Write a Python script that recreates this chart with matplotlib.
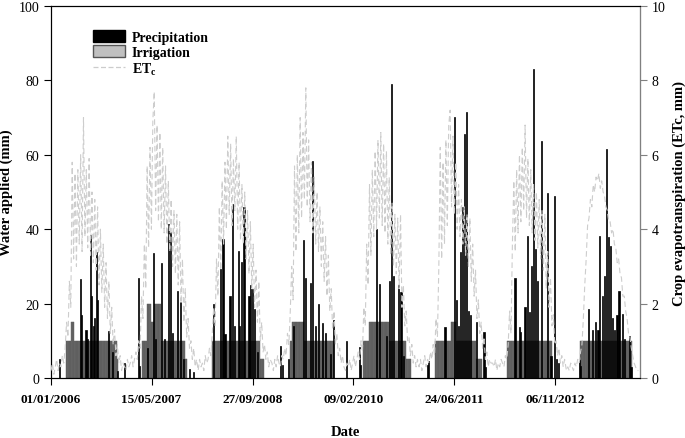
import matplotlib
matplotlib.use("Agg")
import matplotlib.pyplot as plt
import matplotlib.dates as mdates
from matplotlib.lines import Line2D
from matplotlib.patches import Patch
import pandas as pd

plt.rcParams['font.family'] = ['Liberation Serif', 'DejaVu Serif']
plt.rcParams['mathtext.fontset'] = 'custom'
plt.rcParams['mathtext.rm'] = 'Liberation Serif'
plt.rcParams['mathtext.bf'] = 'Liberation Serif:bold'

# ---------------- data ----------------
# precipitation events (date, mm)
precip_dates = [
    "2006-02-11", "2006-05-29", "2006-06-03", "2006-06-23", "2006-07-02", "2006-07-15",
    "2006-07-21", "2006-07-29", "2006-08-03", "2006-08-15", "2006-08-20", "2006-10-14",
    "2006-11-02", "2006-11-27",
    "2007-01-02", "2007-03-09", "2007-03-16", "2007-04-26", "2007-05-24", "2007-06-04",
    "2007-07-03", "2007-07-19", "2007-08-07", "2007-08-18", "2007-08-28", "2007-09-20",
    "2007-10-06", "2007-10-20", "2007-11-20", "2007-12-07",
    "2008-03-19", "2008-04-21", "2008-05-03", "2008-05-13", "2008-06-07", "2008-06-18",
    "2008-07-01", "2008-07-18", "2008-07-26", "2008-08-03", "2008-08-15", "2008-09-09",
    "2008-09-17", "2008-09-25", "2008-10-08", "2008-10-20",
    "2009-02-12", "2009-02-24", "2009-03-26", "2009-04-19", "2009-06-08", "2009-06-16",
    "2009-07-11", "2009-07-22", "2009-08-05", "2009-08-21", "2009-09-07", "2009-09-23",
    "2009-10-18", "2009-11-03",
    "2010-01-04", "2010-03-12", "2010-03-16", "2010-06-03", "2010-06-19", "2010-07-25",
    "2010-08-06", "2010-08-19", "2010-08-27", "2010-09-21", "2010-10-03", "2010-10-15",
    "2011-02-12", "2011-02-18", "2011-05-10", "2011-06-24", "2011-07-04", "2011-07-15",
    "2011-07-24", "2011-08-06", "2011-08-16", "2011-08-26", "2011-09-05", "2011-09-15",
    "2011-10-14", "2011-11-19", "2011-11-27",
    "2012-04-21", "2012-05-12", "2012-05-20", "2012-06-09", "2012-06-21", "2012-07-01",
    "2012-07-10", "2012-07-20", "2012-07-30", "2012-08-11", "2012-08-31", "2012-09-28",
    "2012-10-16", "2012-11-03", "2012-11-13", "2012-11-21",
    "2013-03-05", "2013-03-13", "2013-04-19", "2013-05-10", "2013-05-27", "2013-06-07",
    "2013-06-16", "2013-06-29", "2013-07-10", "2013-07-20", "2013-07-28", "2013-08-07",
    "2013-08-17", "2013-08-29", "2013-09-09", "2013-09-19", "2013-10-06", "2013-10-18",
    "2013-11-08", "2013-11-17",
]
precip_mm = [
    5, 26.5, 17, 13, 10.5, 38.5, 22, 14, 16, 34, 21, 12.7, 7, 2,
    4, 26.8, 3.3, 8, 33.6, 10.5, 31, 10.5, 41.4, 39.2, 12, 23.5, 20.3, 5, 2.5, 1.5,
    20, 29.3, 37.5, 11.8, 22, 46.8, 14, 34.2, 14, 31.3, 45.9, 22, 25, 24, 18.5, 7,
    8.7, 3.5, 5, 14, 37.1, 26.8, 25.5, 58.4, 14, 20, 14.8, 12, 6.5, 15.7,
    9.9, 8.2, 3.4, 40, 25.3, 11.3, 26.2, 79, 27.5, 25, 23, 6,
    3.6, 4.5, 13.6, 70.1, 21, 14, 33.8, 46.1, 65.6, 71.4, 18, 16.8, 15, 12.4, 3,
    27, 13.6, 12.4, 19, 38.3, 17.7, 30.2, 83, 34.7, 26, 63.8, 49.7, 6, 48.8, 5, 4,
    4.9, 3.3, 18.6, 12.8, 15, 13, 38.3, 22, 27.5, 61.6, 37.9, 35.6, 16, 13, 16.8,
    23.5, 17.2, 10.4, 11.3, 3,
]

# irrigation: weekly applications (mm) from the first date of each season
irr_start = ["2006-03-15", "2007-03-30", "2008-03-10", "2009-04-02",
             "2010-03-31", "2011-03-21", "2012-03-10", "2013-03-07"]
irr_2006 = [10, 10, 10, 10, 15, 15, 10, 10, 10, 10, 10, 10, 10, 10, 10, 10, 10, 10, 10,
            10, 10, 10, 10, 10, 10, 10, 10, 10, 10, 10, 10, 10, 10, 10, 10, 10, 5]
irr_2007 = [10, 10, 10, 20, 20, 20, 15, 15, 20, 20, 20, 20, 20, 10, 10, 10, 10, 10, 10,
            10, 10, 10, 10, 10, 10, 10, 10, 10, 10, 10, 5, 5]
irr_2008 = [10, 10, 10, 10, 10, 10, 10, 10, 10, 10, 10, 10, 10, 10, 10, 10, 10, 10, 10,
            10, 10, 10, 10, 10, 10, 10, 10, 10, 10, 10, 10, 10, 10, 10, 5, 5, 5]
irr_2009 = [10, 15, 15, 15, 15, 15, 15, 15, 15, 15, 10, 10, 10, 10, 10, 10, 10, 10, 10,
            10, 10, 10, 10, 10, 10, 10, 10, 10, 10, 10, 10]
irr_2010 = [10, 10, 10, 10, 15, 15, 15, 15, 15, 15, 15, 15, 15, 15, 15, 15, 15, 15, 10,
            10, 10, 10, 10, 10, 10, 10, 10, 10, 10, 10, 5, 5, 5, 5]
irr_2011 = [10, 10, 10, 10, 10, 10, 10, 10, 10, 10, 10, 15, 15, 15, 15, 10, 10, 10, 10,
            10, 10, 10, 10, 10, 10, 10, 10, 10, 10, 5, 5, 5, 5]
irr_2012 = [10, 10, 10, 10, 10, 10, 10, 10, 10, 10, 10, 10, 10, 10, 10, 10, 10, 10, 10,
            10, 10, 10, 10, 10, 10, 10, 10, 10, 10, 10, 10, 10]
irr_2013 = [10, 10, 10, 10, 10, 10, 10, 10, 10, 10, 10, 10, 10, 10, 10, 10, 10, 10, 10,
            10, 10, 10, 10, 10, 10, 10, 10, 10, 10, 10, 10, 10, 10, 10, 10, 10, 10]
irr_seasons = [irr_2006, irr_2007, irr_2008, irr_2009, irr_2010, irr_2011, irr_2012, irr_2013]

# crop evapotranspiration, weekly values from 1 January of each year (mm/day)
etc_years = [2006, 2007, 2008, 2009, 2010, 2011, 2012, 2013]
etc_2006 = [0.2, 0.4, 0.1, 0.3, 0.5, 0.2, 0.4, 0.3, 0.6, 0.4, 0.8, 1.5, 1.1, 2.6, 1.9, 5.8, 3.2, 5.5,
            3.0, 5.6, 3.6, 6.0, 3.4, 7.0, 3.8, 5.6, 3.5, 5.9, 3.3, 5.0, 3.1, 4.8, 2.9, 4.6, 2.5, 4.0,
            2.3, 3.6, 1.9, 3.1, 1.6, 2.6, 1.2, 1.9, 0.9, 1.3, 0.6, 0.9, 0.4, 0.6, 0.2, 0.4]
etc_2007 = [0.3, 0.2, 0.5, 0.3, 0.4, 0.6, 0.3, 0.5, 0.7, 0.5, 1.0, 0.8, 2.2, 1.6, 3.6, 2.4, 5.7, 3.5,
            6.2, 4.0, 6.9, 7.7, 4.5, 6.8, 4.2, 6.6, 4.0, 6.2, 3.9, 5.7, 3.6, 5.3, 3.4, 4.8, 3.0, 4.5,
            2.8, 4.4, 2.5, 4.2, 2.0, 3.2, 1.5, 2.4, 1.1, 1.6, 0.8, 1.0, 0.5, 0.8, 0.3, 0.5]
etc_2008 = [0.2, 0.5, 0.3, 0.4, 0.2, 0.6, 0.4, 0.5, 0.8, 0.6, 1.2, 1.9, 1.4, 3.2, 2.2, 4.6, 2.9, 5.3,
            3.6, 5.8, 4.0, 6.5, 4.4, 6.3, 4.1, 5.9, 4.5, 6.5, 4.0, 5.8, 3.7, 5.2, 3.6, 5.0, 3.2, 4.5,
            2.8, 4.2, 2.4, 3.6, 1.9, 2.9, 1.5, 2.6, 1.0, 1.5, 0.7, 0.9, 0.5, 0.7, 0.3, 0.5]
etc_2009 = [0.4, 0.2, 0.5, 0.3, 0.6, 0.4, 0.3, 0.6, 0.5, 0.8, 0.6, 1.2, 0.9, 1.8, 3.0, 2.1, 5.7, 3.4,
            6.0, 3.9, 7.0, 4.3, 6.6, 4.8, 7.8, 4.6, 6.4, 4.2, 5.8, 3.9, 5.4, 3.6, 5.0, 3.4, 4.6, 3.0,
            4.2, 2.6, 3.8, 2.2, 3.3, 1.8, 2.4, 1.3, 1.8, 0.9, 1.2, 0.6, 0.8, 0.4, 0.6, 0.3]
etc_2010 = [0.2, 0.4, 0.3, 0.5, 0.2, 0.4, 0.6, 0.3, 0.5, 0.7, 0.5, 1.0, 0.7, 1.9, 1.4, 3.6, 2.5, 5.2,
            3.3, 5.6, 3.8, 6.1, 4.0, 6.4, 4.3, 6.6, 4.1, 6.3, 3.9, 6.1, 3.6, 5.4, 3.3, 4.7, 3.0, 4.4,
            2.8, 4.3, 2.4, 4.4, 1.9, 2.5, 1.4, 1.8, 1.0, 1.1, 0.6, 0.9, 0.4, 0.6, 0.3, 0.5]
etc_2011 = [0.3, 0.5, 0.2, 0.4, 0.6, 0.3, 0.5, 0.4, 0.7, 0.5, 0.9, 0.6, 1.6, 1.1, 3.0, 6.2, 3.2, 5.8,
            3.6, 6.4, 4.1, 6.8, 7.2, 4.6, 6.5, 4.4, 5.8, 4.0, 5.2, 3.8, 4.8, 3.6, 4.6, 3.3, 4.4, 3.0,
            4.3, 2.6, 3.6, 2.2, 2.9, 1.6, 2.1, 1.2, 1.5, 0.8, 1.1, 0.5, 0.7, 0.3, 0.5, 0.4]
etc_2012 = [0.4, 0.3, 0.5, 0.2, 0.4, 0.3, 0.5, 0.4, 0.3, 0.6, 0.5, 0.9, 1.8, 1.2, 3.6, 5.3, 3.4, 5.6,
            3.9, 6.0, 4.2, 6.2, 4.5, 6.8, 4.3, 5.9, 4.1, 5.6, 3.9, 5.2, 3.7, 5.0, 3.5, 4.8, 3.2, 4.5,
            2.9, 4.4, 2.4, 3.4, 1.9, 2.7, 1.4, 1.7, 0.9, 1.0, 0.6, 0.8, 0.4, 0.6, 0.3, 0.5]
etc_2013 = [0.2, 0.3, 0.2, 0.4, 0.3, 0.2, 0.4, 0.3, 0.5, 0.4, 0.7, 0.9, 1.6, 2.5, 3.2, 4.1, 4.3, 4.8,
            4.6, 5.2, 5.0, 5.4, 5.3, 5.5, 5.1, 5.3, 5.0, 4.9, 4.6, 4.5, 4.2, 4.2, 3.9, 4.0, 3.6, 3.5,
            3.1, 3.2, 2.8, 2.7, 2.2, 2.2, 1.8, 1.6, 1.2, 1.1, 0.8, 0.6, 0.4, 0.3, 0.2, 0.2]
etc_seasons = [etc_2006, etc_2007, etc_2008, etc_2009, etc_2010, etc_2011, etc_2012, etc_2013]

tick_dates = ["2006-01-01", "2007-05-15", "2008-09-27", "2010-02-09", "2011-06-24", "2012-11-06"]

# ---------------- build series ----------------
p_dates = pd.to_datetime(precip_dates)

irr_d = []
irr_v = []
for start, vals in zip(irr_start, irr_seasons):
    d = pd.date_range(start, periods=len(vals), freq="7D")
    irr_d.extend(d)
    irr_v.extend(vals)

etc_d = []
etc_v = []
for yr, vals in zip(etc_years, etc_seasons):
    d = pd.date_range(f"{yr}-01-01", periods=len(vals), freq="7D")
    etc_d.extend(d)
    etc_v.extend(vals)

# ---------------- plot ----------------
fig = plt.figure(figsize=(6.85, 4.39), dpi=100)
ax = fig.add_axes([0.0745, 0.1367, 0.8595, 0.8473])

ax.bar(irr_d, irr_v, width=7, align="edge", color="#676767", edgecolor="#5a5a5a",
       linewidth=0.3, zorder=2)
ax.bar(p_dates, precip_mm, width=6, color="black", edgecolor="black", linewidth=0.5, zorder=3)

ax.set_ylim(0, 100)
ax.set_yticks([0, 20, 40, 60, 80, 100])
ax.set_xlim(pd.Timestamp("2006-01-01"), pd.Timestamp("2013-12-31"))
ax.set_xticks(pd.to_datetime(tick_dates))
ax.xaxis.set_major_formatter(mdates.DateFormatter("%d/%m/%Y"))
ax.tick_params(axis="x", direction="out", length=5, pad=6, labelsize=9.5)
ax.tick_params(axis="y", direction="out", length=5, labelsize=10)
for lab in ax.get_xticklabels():
    lab.set_fontweight("bold")
ax.set_ylabel("Water applied (mm)", fontsize=10.5, fontweight="bold", labelpad=4)
ax.set_xlabel("Date", fontsize=10.5, fontweight="bold", labelpad=14)

ax2 = ax.twinx()
ax2.plot(etc_d, etc_v, color="#cdcdcd", linestyle=(0, (5, 3)), linewidth=0.8, zorder=4)
ax2.set_ylim(0, 10)
ax2.set_yticks([0, 2, 4, 6, 8, 10])
ax2.tick_params(axis="y", direction="out", length=5, labelsize=10, color="#808080")
ax2.spines["right"].set_color("#808080")
ax2.set_ylabel("Crop evapotranspiration (ETc, mm)", fontsize=10.5, fontweight="bold", labelpad=5)

handles = [Patch(facecolor="black", edgecolor="black"),
           Patch(facecolor="#c0c0c0", edgecolor="#555555"),
           Line2D([0], [0], color="#cccccc", linestyle=(0, (4, 2)), linewidth=0.9)]
labels = ["Precipitation", "Irrigation", r"ET$_{\mathbf{c}}$"]
ax2.legend(handles, labels, loc="upper left", bbox_to_anchor=(0.05, 0.97), frameon=False,
           prop={"weight": "bold", "size": 10}, handlelength=2.3, handleheight=1.0,
           labelspacing=0.1, handletextpad=0.5)

fig.savefig("out.png", dpi=100)
